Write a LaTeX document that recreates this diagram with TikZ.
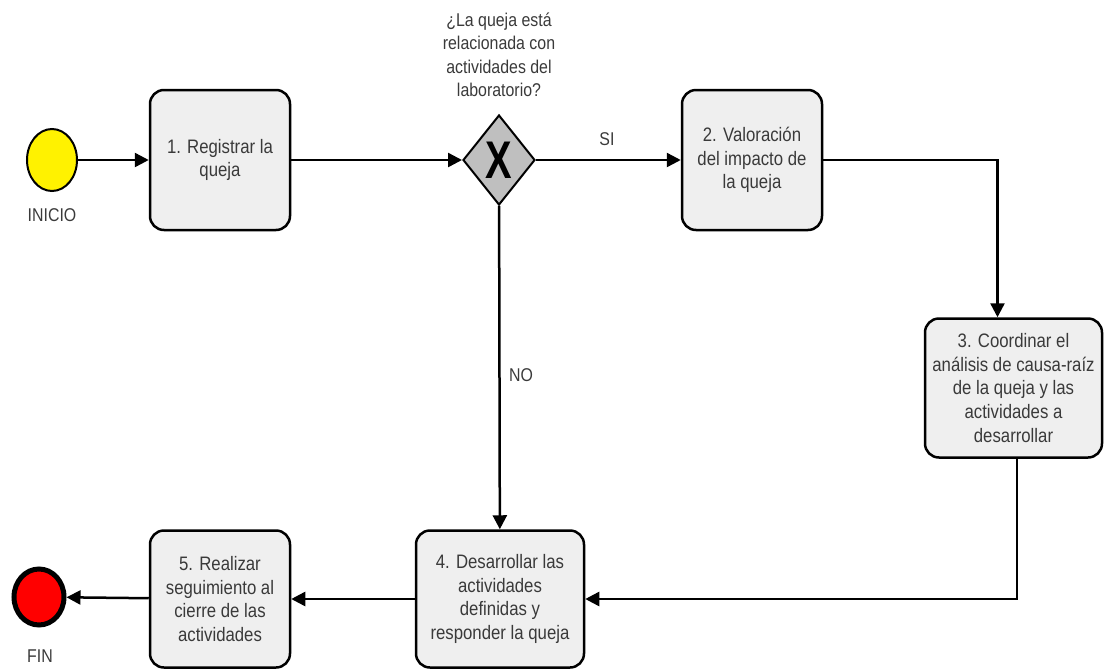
\documentclass[tikz,border=0pt]{standalone}
\usepackage{fontspec}
\setmainfont{Liberation Sans}[FakeStretch=0.86]
\newfontfamily\xfont{Liberation Sans}
\usetikzlibrary{arrows.meta,shapes.geometric}
\definecolor{txt}{HTML}{3A3A3A}
\definecolor{boxfill}{HTML}{EFEFEF}
\definecolor{gwfill}{HTML}{BFBFBF}
\begin{document}
\begin{tikzpicture}[x=1pt,y=-1pt,
  task/.style={draw=black,fill=boxfill,line width=2.5pt,rounded corners=14pt,
    align=center,text=txt,font=\fontsize{19.5}{23.7}\selectfont,inner sep=0pt},
  lbl/.style={text=txt,font=\fontsize{18.5}{23.5}\selectfont,align=center,inner sep=0pt},
  flow/.style={line width=2.5pt,-{Triangle[length=14pt,width=14pt]}},
  gateway/.style={diamond,draw=black,fill=gwfill,line width=2pt,minimum width=72pt,minimum height=90pt,inner sep=0pt,aspect=0.8}
]
\useasboundingbox (0,0) rectangle (1104,670);
% events
\node[ellipse,draw=black,fill=yellow,line width=2pt,minimum width=50pt,minimum height=62pt,inner sep=0pt] (start) at (52,160) {};
\node[lbl] (inicio) at (52,215) {INICIO};
\node[ellipse,draw=black,fill=red,line width=5pt,minimum width=50pt,minimum height=56pt,inner sep=0pt] (end) at (39,597) {};
\node[lbl] (fin) at (40,656) {FIN};
% tasks
\node[task,minimum width=140pt,minimum height=140pt] (t1) at (220,160) {1. Registrar la\\queja};
\node[task,minimum width=140pt,minimum height=140pt] (t2) at (752,160) {2. Valoración\\del impacto de\\la queja};
\node[task,minimum width=177pt,minimum height=139pt] (t3) at (1013.5,388) {3. Coordinar el\\análisis de causa-raíz\\de la queja y las\\actividades a\\desarrollar};
\node[task,minimum width=168pt,minimum height=137pt] (t4) at (500,599) {4. Desarrollar las\\actividades\\definidas y\\responder la queja};
\node[task,minimum width=140pt,minimum height=137pt] (t5) at (220,599) {5. Realizar\\seguimiento al\\cierre de las\\actividades};
% gateway
\node[gateway] (gw) at (499,160) {};
\node[inner sep=0pt] (gwx) at (gw.center) {\scalebox{0.75}[1]{\xfont\fontsize{53}{53}\selectfont\bfseries X}};
\node[lbl] (q) at (499,55) {¿La queja está\\relacionada con\\actividades del\\laboratorio?};
% labels
\node[lbl] (si) at (607,139) {SI};
\node[lbl] (no) at (521,375) {NO};
% flows
\draw[flow] (start) -- (t1);
\draw[flow] (t1) -- (gw);
\draw[flow] (gw) -- (t2);
\draw[flow] (t2.east) -| ([xshift=-16pt]t3.north);
\draw[flow] ([xshift=3.5pt]t3.south) |- (t4.east);
\draw[flow] (gw) -- (t4);
\draw[flow] (t4) -- (t5);
\draw[flow] (t5) -- (end);
\end{tikzpicture}
\end{document}
